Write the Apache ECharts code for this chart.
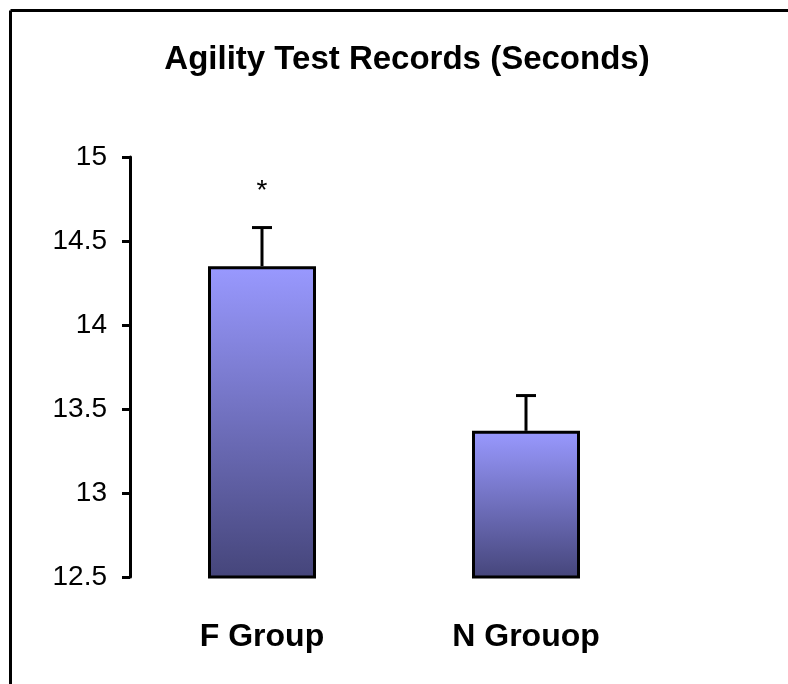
<!DOCTYPE html>
<html>
<head>
<meta charset="utf-8">
<script src="https://cdn.jsdelivr.net/npm/echarts@6/dist/echarts.min.js"></script>
<style>html,body{margin:0;padding:0;background:#fff;}#c{width:788px;height:684px;}</style>
</head>
<body>
<div id="c"></div>
<script>
var categories = ['F Group', 'N Grouop'];
var means = [14.35, 13.37];
var errorTops = [14.58, 13.58];
var marks = ['*', ''];
var yTicks = { min: 12.5, max: 15, interval: 0.5 };

var chart = echarts.init(document.getElementById('c'));
var font = '"Liberation Sans", Arial, sans-serif';
chart.setOption({
  backgroundColor: '#fff',
  animation: false,
  title: {
    text: 'Agility Test Records (Seconds)',
    left: 402,
    textAlign: 'center',
    top: 38,
    textStyle: { fontFamily: font, fontWeight: 'bold', fontSize: 33, color: '#000' }
  },
  graphic: [
    { type: 'line', shape: { x1: 10.5, y1: 10.5, x2: 788, y2: 10.5 }, style: { stroke: '#000', lineWidth: 3 } },
    { type: 'line', shape: { x1: 10.5, y1: 10.5, x2: 10.5, y2: 684 }, style: { stroke: '#000', lineWidth: 3 } }
  ],
  grid: { left: 130, right: 130, top: 157, bottom: 107 },
  xAxis: {
    type: 'category',
    data: categories,
    axisLine: { show: false },
    axisTick: { show: false },
    axisLabel: { fontFamily: font, fontWeight: 'bold', fontSize: 32, color: '#000', margin: 44 }
  },
  yAxis: {
    type: 'value',
    min: yTicks.min, max: yTicks.max, interval: yTicks.interval,
    axisLine: { show: true, lineStyle: { color: '#000', width: 3 } },
    axisTick: { show: true, length: 8, lineStyle: { color: '#000', width: 3 } },
    splitLine: { show: false },
    axisLabel: { fontFamily: font, fontSize: 28, color: '#000', margin: 23 }
  },
  series: [
    {
      type: 'bar',
      data: means,
      barWidth: 108,
      itemStyle: {
        color: new echarts.graphic.LinearGradient(0, 0, 0, 1, [
          { offset: 0, color: '#9999FF' },
          { offset: 1, color: '#45457A' }
        ]),
        borderColor: '#000',
        borderWidth: 3
      }
    },
    {
      type: 'custom',
      data: means.map(function (m, i) { return [i, m, errorTops[i]]; }),
      renderItem: function (params, api) {
        var i = api.value(0);
        var p0 = api.coord([i, api.value(1)]);
        var p1 = api.coord([i, api.value(2)]);
        var children = [
          { type: 'line', shape: { x1: p0[0], y1: p0[1], x2: p1[0], y2: p1[1] }, style: { stroke: '#000', lineWidth: 3 } },
          { type: 'line', shape: { x1: p1[0] - 10, y1: p1[1], x2: p1[0] + 10, y2: p1[1] }, style: { stroke: '#000', lineWidth: 3 } }
        ];
        var m = marks[params.dataIndex];
        if (m) {
          children.push({ type: 'text', style: { text: m, x: p1[0], y: p1[1] - 36, align: 'center', verticalAlign: 'middle', fontFamily: font, fontSize: 28, fill: '#000' } });
        }
        return { type: 'group', children: children };
      },
      z: 3
    }
  ]
});
</script>
</body>
</html>
